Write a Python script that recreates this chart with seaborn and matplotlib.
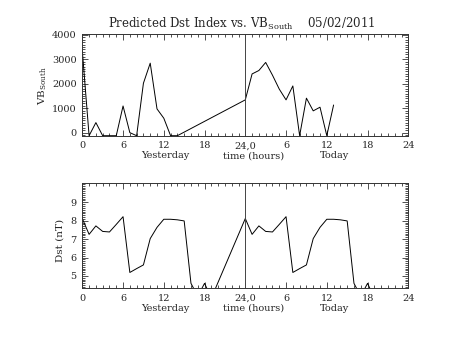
import matplotlib
matplotlib.use("Agg")
import matplotlib.pyplot as plt
import numpy as np
import pandas as pd
import seaborn as sns
from matplotlib.ticker import FixedLocator, MultipleLocator, FixedFormatter

# Hourly VB_South (hours counted from midnight yesterday; 15-23 missing)
vb_hours = [0, 1, 2, 3, 4, 5, 6, 7, 8, 9, 10, 11, 12, 13, 14,
            24, 25, 26, 27, 28, 29, 30, 31, 32, 33, 34, 35, 36, 37]
vb_values = [3350, -125, 410, -125, -125, -125, 1090, 0, -125, 2020, 2840, 970, 590, -125, -125,
             1340, 2400, 2540, 2870, 2350, 1780, 1340, 1910, -125, 1410, 890, 1040, -125, 1130]

# Hourly predicted Dst (nT)
dst_hours = list(range(0, 20)) + list(range(24, 44))
dst_day = [8.12, 7.26, 7.72, 7.42, 7.39, 7.80, 8.22, 5.19, 5.40, 5.60,
           7.03, 7.64, 8.08, 8.08, 8.05, 7.99, 4.60, 3.90, 4.60, 3.80]
dst_values = dst_day + dst_day

x_ticks = [0, 6, 12, 18, 24, 30, 36, 42, 48]
x_tick_labels = ["0", "6", "12", "18", "24,0", "6", "12", "18", "24"]
vb_ticks = [0, 1000, 2000, 3000, 4000]
dst_ticks = [5, 6, 7, 8, 9]

sns.set_theme(style="ticks")
plt.rcParams["font.family"] = ["DejaVu Serif"]
plt.rcParams["mathtext.fontset"] = "dejavuserif"

W, H = 453, 340
fig = plt.figure(figsize=(W / 100, H / 100), dpi=100)
fig.patch.set_facecolor("white")

def px_axes(left, top, right, bottom):
    return fig.add_axes([left / W, 1 - bottom / H, (right - left) / W, (bottom - top) / H])

ax1 = px_axes(82.3, 34.3, 408.3, 135.7)
ax2 = px_axes(82.3, 183.0, 408.3, 288.3)

vb_df = pd.DataFrame({"hour": vb_hours, "vb": vb_values})
dst_df = pd.DataFrame({"hour": dst_hours, "dst": dst_values})

sns.lineplot(data=vb_df, x="hour", y="vb", ax=ax1, color="black", linewidth=0.7)
sns.lineplot(data=dst_df, x="hour", y="dst", ax=ax2, color="black", linewidth=0.7)

ax1.set_ylim(-125, 4020)
ax2.set_ylim(4.33, 10.05)

for ax, yt, yminor in ((ax1, vb_ticks, 100), (ax2, dst_ticks, 0.1)):
    ax.set_facecolor("white")
    ax.set_xlim(0, 48)
    ax.axvline(24, color="#444444", linewidth=0.7)
    ax.xaxis.set_major_locator(FixedLocator(x_ticks))
    ax.xaxis.set_major_formatter(FixedFormatter(x_tick_labels))
    ax.xaxis.set_minor_locator(MultipleLocator(1))
    ax.yaxis.set_major_locator(FixedLocator(yt))
    ax.yaxis.set_minor_locator(MultipleLocator(yminor))
    ax.tick_params(which="both", direction="in", top=True, right=True,
                   color="#333333", width=0.6, labelsize=7, pad=4)
    ax.tick_params(which="major", length=4.0)
    ax.tick_params(which="minor", length=2.0)
    for s in ax.spines.values():
        s.set_color("#333333")
        s.set_linewidth(0.7)
    ax.set_xlabel("")
    ax.set_ylabel("")
    for h, txt in ((12.2, "Yesterday"), (25.2, "time (hours)"), (37.1, "Today")):
        ax.annotate(txt, xy=(h, 0), xycoords=("data", "axes fraction"),
                    xytext=(0, -20), textcoords="offset pixels",
                    ha="center", va="center", fontsize=7)

fig.text(43 / W, 1 - 86 / H, r"VB$_{\rm South}$", rotation=90,
         ha="center", va="center", fontsize=7.5)
fig.text(60 / W, 1 - 240 / H, "Dst (nT)", rotation=90,
         ha="center", va="center", fontsize=7.5)

fig.text(241.5 / W, 1 - 28 / H,
         r"Predicted Dst Index vs. VB$_{\rm South}$    05/02/2011",
         ha="center", va="baseline", fontsize=8.5)

fig.savefig("out.png", dpi=100, facecolor="white")
